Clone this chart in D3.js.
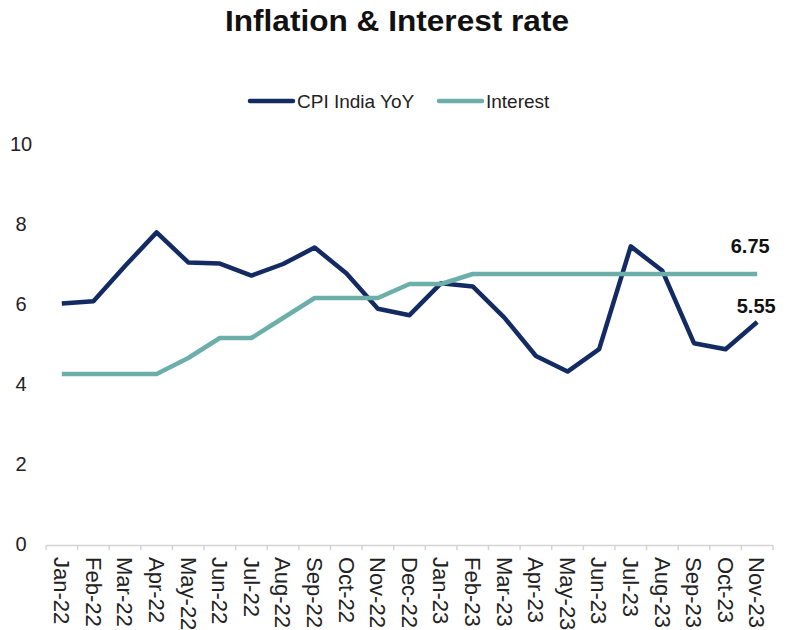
<!DOCTYPE html>
<html>
<head>
<meta charset="utf-8">
<script src="https://cdn.jsdelivr.net/npm/d3@7/dist/d3.min.js"></script>
<style>
  body { margin: 0; background: #fff; }
  svg { display: block; font-family: Arial, "Liberation Sans", Helvetica, sans-serif; }
</style>
</head>
<body>
<div id="chart"></div>
<script>
// chart data
var months = ['Jan-22', 'Feb-22', 'Mar-22', 'Apr-22', 'May-22', 'Jun-22', 'Jul-22', 'Aug-22',
              'Sep-22', 'Oct-22', 'Nov-22', 'Dec-22', 'Jan-23', 'Feb-23', 'Mar-23', 'Apr-23',
              'May-23', 'Jun-23', 'Jul-23', 'Aug-23', 'Sep-23', 'Oct-23', 'Nov-23'];
var cpi = [6.01, 6.07, 6.95, 7.79, 7.04, 7.01, 6.71, 7.00, 7.41, 6.77, 5.88, 5.72,
           6.52, 6.44, 5.66, 4.70, 4.31, 4.87, 7.44, 6.83, 5.02, 4.87, 5.55];
var interest = [4.25, 4.25, 4.25, 4.25, 4.65, 5.15, 5.15, 5.65, 6.15, 6.15, 6.15, 6.50,
                6.50, 6.75, 6.75, 6.75, 6.75, 6.75, 6.75, 6.75, 6.75, 6.75, 6.75];
var yTicks = [0, 2, 4, 6, 8, 10];

var series = [
    {name: 'CPI India YoY', values: cpi, color: '#132b62'},
    {name: 'Interest', values: interest, color: '#6cafaa'}
];

var width = 794, height = 630;

var svg = d3.select('#chart').append('svg')
    .attr('width', width)
    .attr('height', height);

var x = d3.scaleBand()
    .domain(months)
    .range([46, 773]);

var y = d3.scaleLinear()
    .domain([0, 10])
    .range([544, 144]);

function cx(m) { return x(m) + x.bandwidth() / 2; }

// title
svg.append('text')
    .attr('x', 397)
    .attr('y', 31)
    .attr('text-anchor', 'middle')
    .attr('font-size', 30)
    .attr('font-weight', 'bold')
    .attr('fill', '#111')
    .attr('textLength', 344)
    .attr('lengthAdjust', 'spacingAndGlyphs')
    .text('Inflation & Interest rate');

// legend
var legendPos = [{lx: 250, tx: 297}, {lx: 439, tx: 486}];
var legend = svg.selectAll('.legend')
    .data(series)
    .enter().append('g')
    .attr('class', 'legend');

legend.append('line')
    .attr('x1', function(d, i) { return legendPos[i].lx; })
    .attr('x2', function(d, i) { return legendPos[i].lx + 43; })
    .attr('y1', 101)
    .attr('y2', 101)
    .attr('stroke', function(d) { return d.color; })
    .attr('stroke-width', 4.5)
    .attr('stroke-linecap', 'round');

legend.append('text')
    .attr('x', function(d, i) { return legendPos[i].tx; })
    .attr('y', 108)
    .attr('font-size', 19)
    .attr('fill', '#222')
    .text(function(d) { return d.name; });

// y axis labels only, no gridlines
svg.selectAll('.ylab')
    .data(yTicks)
    .enter().append('text')
    .attr('class', 'ylab')
    .attr('x', 21)
    .attr('y', function(d) { return y(d) + 7; })
    .attr('text-anchor', 'middle')
    .attr('font-size', 20)
    .attr('fill', '#222')
    .text(function(d) { return d; });

// x axis: line, ticks between categories, rotated labels
var xAxis = svg.append('g').attr('class', 'x-axis');

xAxis.append('line')
    .attr('x1', 46).attr('x2', 773)
    .attr('y1', y(0) + 1.5).attr('y2', y(0) + 1.5)
    .attr('stroke', '#d4d4d4')
    .attr('stroke-width', 1.5);

var bounds = months.map(function(m) { return x(m); }).concat([x.range()[1]]);
xAxis.selectAll('.tick')
    .data(bounds)
    .enter().append('line')
    .attr('class', 'tick')
    .attr('x1', function(d) { return d; })
    .attr('x2', function(d) { return d; })
    .attr('y1', y(0) + 1.5)
    .attr('y2', y(0) + 6)
    .attr('stroke', '#d4d4d4')
    .attr('stroke-width', 1.5);

xAxis.selectAll('.xlab')
    .data(months)
    .enter().append('text')
    .attr('class', 'xlab')
    .attr('transform', function(d) {
        return 'translate(' + cx(d) + ',' + 557 + ') rotate(90)';
    })
    .attr('dy', '0.35em')
    .attr('font-size', 22)
    .attr('fill', '#222')
    .text(function(d) { return d; });

// lines
var line = d3.line()
    .x(function(d, i) { return cx(months[i]); })
    .y(function(d) { return y(d); });

svg.selectAll('.series')
    .data(series)
    .enter().append('path')
    .attr('class', 'series')
    .attr('fill', 'none')
    .attr('stroke', function(d) { return d.color; })
    .attr('stroke-width', 4.5)
    .attr('stroke-linejoin', 'round')
    .attr('d', function(d) { return line(d.values); });

// end labels
var last = months.length - 1;
svg.append('text')
    .attr('x', cx(months[last]) - 7)
    .attr('y', y(interest[last]) - 21)
    .attr('text-anchor', 'middle')
    .attr('font-size', 20)
    .attr('font-weight', 'bold')
    .attr('fill', '#111')
    .text(interest[last].toFixed(2));

svg.append('text')
    .attr('x', cx(months[last]) - 1)
    .attr('y', y(cpi[last]) - 9)
    .attr('text-anchor', 'middle')
    .attr('font-size', 20)
    .attr('font-weight', 'bold')
    .attr('fill', '#111')
    .text(cpi[last].toFixed(2));
</script>
</body>
</html>
